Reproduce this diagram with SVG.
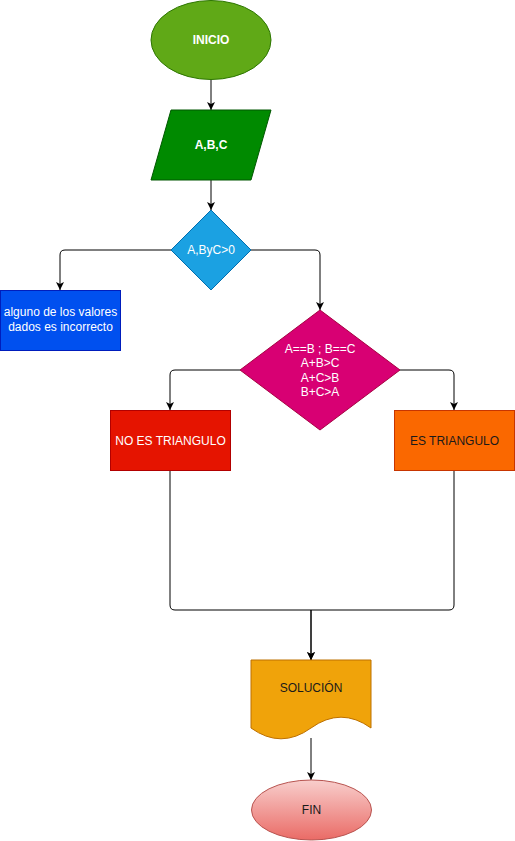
<svg xmlns="http://www.w3.org/2000/svg" width="515" height="841" viewBox="0 0 515 841">
<style>
  .t{font-family:"Liberation Sans",Arial,Helvetica,sans-serif;font-size:12px;text-anchor:middle;dominant-baseline:central}
  .w{fill:#ffffff}
  .d{fill:#1a1a1a}
  .e{fill:none;stroke:#000000;stroke-width:1}
</style>
<defs>
  <marker id="arr" viewBox="0 0 8 8" refX="8" refY="4" markerWidth="8" markerHeight="8" markerUnits="userSpaceOnUse" orient="auto">
    <path d="M0,0 L8,4 L0,8 L2,4 Z" fill="#000000"/>
  </marker>
  <linearGradient id="fing" x1="0" y1="0" x2="0" y2="1">
    <stop offset="0" stop-color="#f8cecc"/>
    <stop offset="1" stop-color="#ea6b66"/>
  </linearGradient>
</defs>
<g id="connectors">
  <path class="e" d="M211,80 V110" marker-end="url(#arr)"/>
  <path class="e" d="M211,180 V210" marker-end="url(#arr)"/>
  <path class="e" d="M171,250 H65 Q60,250 60,255 V290" marker-end="url(#arr)"/>
  <path class="e" d="M251,250 H315 Q320,250 320,255 V310" marker-end="url(#arr)"/>
  <path class="e" d="M240,370 H175 Q170,370 170,375 V410" marker-end="url(#arr)"/>
  <path class="e" d="M400,370 H449 Q454,370 454,375 V410" marker-end="url(#arr)"/>
  <path class="e" d="M170,470 V605 Q170,610 175,610 H311 V660" marker-end="url(#arr)"/>
  <path class="e" d="M454,470 V605 Q454,610 449,610 H311 V660" marker-end="url(#arr)"/>
  <path class="e" d="M311,738 V780" marker-end="url(#arr)"/>
</g>
<g id="inicio">
  <ellipse cx="211" cy="40" rx="60" ry="39.5" fill="#60a917" stroke="#2d7600"/>
  <text class="t w" x="211" y="40" font-weight="bold">INICIO</text>
</g>
<g id="entrada">
  <polygon points="171,110 271,110 251,180 151,180" fill="#008a00" stroke="#005700"/>
  <text class="t w" x="211" y="145" font-weight="bold">A,B,C</text>
</g>
<g id="decision1">
  <polygon points="211,210 251,250 211,290 171,250" fill="#1ba1e2" stroke="#006eaf"/>
  <text class="t w" x="211" y="250">A,ByC&gt;0</text>
</g>
<g id="error">
  <rect x="0.5" y="290.5" width="120" height="60" fill="#0050ef" stroke="#001dbc"/>
  <text class="t w" x="60.5" y="312">alguno de los valores</text>
  <text class="t w" x="60.5" y="327">dados es incorrecto</text>
</g>
<g id="decision2">
  <polygon points="320,310 400,370 320,430 240,370" fill="#d80073" stroke="#a50040"/>
  <text class="t w" x="320" y="349">A==B ; B==C</text>
  <text class="t w" x="320" y="363">A+B&gt;C</text>
  <text class="t w" x="320" y="378">A+C&gt;B</text>
  <text class="t w" x="320" y="392">B+C&gt;A</text>
</g>
<g id="no-triangulo">
  <rect x="110.5" y="410.5" width="120" height="60" fill="#e51400" stroke="#b20000"/>
  <text class="t w" x="170.5" y="440.5">NO ES TRIANGULO</text>
</g>
<g id="triangulo">
  <rect x="394.5" y="410.5" width="120" height="60" fill="#fa6800" stroke="#c73500"/>
  <text class="t d" x="454.5" y="440.5">ES TRIANGULO</text>
</g>
<g id="solucion">
  <path d="M251,660 H371 V728 Q341,706.4 311,728 Q281,749.6 251,728 Z" fill="#f0a30a" stroke="#bd7000"/>
  <text class="t d" x="311" y="688">SOLUCIÓN</text>
</g>
<g id="fin">
  <ellipse cx="311.5" cy="810" rx="60" ry="30" fill="url(#fing)" stroke="#b85450"/>
  <text class="t d" x="311.5" y="810">FIN</text>
</g>
</svg>
